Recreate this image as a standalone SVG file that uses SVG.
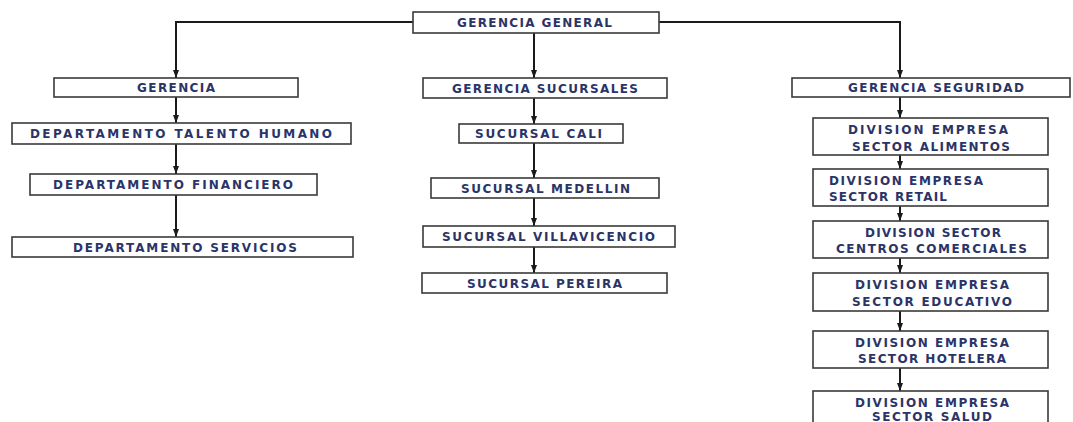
<svg xmlns="http://www.w3.org/2000/svg" width="1073" height="422" viewBox="0 0 1073 422">
<style>
.box{fill:#ffffff;stroke:#3a3a3a;stroke-width:1.6}
.t{font-family:"DejaVu Sans","Open Sans",sans-serif;font-weight:bold;font-size:12px;fill:#2a3468}
.c{fill:none;stroke:#1a1a1a;stroke-width:2}
</style>
<defs>
<marker id="ah" viewBox="0 0 8 6" refX="8" refY="3" markerWidth="8" markerHeight="6" markerUnits="userSpaceOnUse" orient="auto">
<path d="M0,0 L8,3 L0,6 z" fill="#1a1a1a"/>
</marker>
</defs>
<rect width="1073" height="422" fill="#ffffff"/>
<g id="connectors">
<path class="c" d="M413,22 H176 V78" marker-end="url(#ah)"/>
<path class="c" d="M659,22 H900 V78" marker-end="url(#ah)"/>
<path class="c" d="M534,33 V78" marker-end="url(#ah)"/>
<path class="c" d="M176,97 V123" marker-end="url(#ah)"/>
<path class="c" d="M176,144 V174" marker-end="url(#ah)"/>
<path class="c" d="M176,195 V237" marker-end="url(#ah)"/>
<path class="c" d="M534,98 V124" marker-end="url(#ah)"/>
<path class="c" d="M534,143 V178" marker-end="url(#ah)"/>
<path class="c" d="M534,198 V226" marker-end="url(#ah)"/>
<path class="c" d="M534,247 V273" marker-end="url(#ah)"/>
<path class="c" d="M900,97 V118" marker-end="url(#ah)"/>
<path class="c" d="M900,155 V169" marker-end="url(#ah)"/>
<path class="c" d="M900,206 V221" marker-end="url(#ah)"/>
<path class="c" d="M900,258 V273" marker-end="url(#ah)"/>
<path class="c" d="M900,311 V331" marker-end="url(#ah)"/>
<path class="c" d="M900,368 V391" marker-end="url(#ah)"/>
</g>
<g id="gerencia-general">
<rect class="box" x="413" y="12" width="246" height="21"/>
<text class="t" x="457" y="27" textLength="155" lengthAdjust="spacing">GERENCIA GENERAL</text>
</g>
<g id="gerencia">
<rect class="box" x="54" y="78" width="244" height="19"/>
<text class="t" x="137" y="92" textLength="78" lengthAdjust="spacing">GERENCIA</text>
</g>
<g id="depto-talento">
<rect class="box" x="12" y="123" width="339" height="21"/>
<text class="t" x="30" y="138" textLength="302" lengthAdjust="spacing">DEPARTAMENTO TALENTO HUMANO</text>
</g>
<g id="depto-financiero">
<rect class="box" x="30" y="174" width="287" height="21"/>
<text class="t" x="53" y="189" textLength="240" lengthAdjust="spacing">DEPARTAMENTO FINANCIERO</text>
</g>
<g id="depto-servicios">
<rect class="box" x="12" y="237" width="341" height="20"/>
<text class="t" x="73" y="251.5" textLength="224" lengthAdjust="spacing">DEPARTAMENTO SERVICIOS</text>
</g>
<g id="gerencia-sucursales">
<rect class="box" x="423" y="78" width="244" height="20"/>
<text class="t" x="452" y="92.5" textLength="186" lengthAdjust="spacing">GERENCIA SUCURSALES</text>
</g>
<g id="sucursal-cali">
<rect class="box" x="459" y="124" width="164" height="19"/>
<text class="t" x="475" y="138" textLength="127" lengthAdjust="spacing">SUCURSAL CALI</text>
</g>
<g id="sucursal-medellin">
<rect class="box" x="431" y="178" width="228" height="20"/>
<text class="t" x="461" y="192.5" textLength="169" lengthAdjust="spacing">SUCURSAL MEDELLIN</text>
</g>
<g id="sucursal-villavicencio">
<rect class="box" x="423" y="226" width="252" height="21"/>
<text class="t" x="442" y="241" textLength="213" lengthAdjust="spacing">SUCURSAL VILLAVICENCIO</text>
</g>
<g id="sucursal-pereira">
<rect class="box" x="422" y="273" width="245" height="20"/>
<text class="t" x="467" y="287.5" textLength="155" lengthAdjust="spacing">SUCURSAL PEREIRA</text>
</g>
<g id="gerencia-seguridad">
<rect class="box" x="792" y="78" width="278" height="19"/>
<text class="t" x="848" y="92" textLength="176" lengthAdjust="spacing">GERENCIA SEGURIDAD</text>
</g>
<g id="div-alimentos">
<rect class="box" x="813" y="118" width="235" height="37"/>
<text class="t" x="848" y="133.5" textLength="160" lengthAdjust="spacing">DIVISION EMPRESA</text>
<text class="t" x="852" y="150.5" textLength="158" lengthAdjust="spacing">SECTOR ALIMENTOS</text>
</g>
<g id="div-retail">
<rect class="box" x="813" y="169" width="235" height="37"/>
<text class="t" x="829" y="184.5" textLength="154" lengthAdjust="spacing">DIVISION EMPRESA</text>
<text class="t" x="829" y="200.5" textLength="118" lengthAdjust="spacing">SECTOR RETAIL</text>
</g>
<g id="div-centros">
<rect class="box" x="813" y="221" width="235" height="37"/>
<text class="t" x="865" y="236.5" textLength="136" lengthAdjust="spacing">DIVISION SECTOR</text>
<text class="t" x="836" y="252.5" textLength="191" lengthAdjust="spacing">CENTROS COMERCIALES</text>
</g>
<g id="div-educativo">
<rect class="box" x="813" y="273" width="235" height="38"/>
<text class="t" x="855" y="288.5" textLength="154" lengthAdjust="spacing">DIVISION EMPRESA</text>
<text class="t" x="852" y="305.5" textLength="160" lengthAdjust="spacing">SECTOR EDUCATIVO</text>
</g>
<g id="div-hotelera">
<rect class="box" x="813" y="331" width="235" height="37"/>
<text class="t" x="855" y="346.5" textLength="154" lengthAdjust="spacing">DIVISION EMPRESA</text>
<text class="t" x="858" y="362.5" textLength="148" lengthAdjust="spacing">SECTOR HOTELERA</text>
</g>
<g id="div-salud">
<rect class="box" x="813" y="391" width="235" height="40"/>
<text class="t" x="855" y="406.5" textLength="154" lengthAdjust="spacing">DIVISION EMPRESA</text>
<text class="t" x="872" y="420.5" textLength="120" lengthAdjust="spacing">SECTOR SALUD</text>
</g>
</svg>
